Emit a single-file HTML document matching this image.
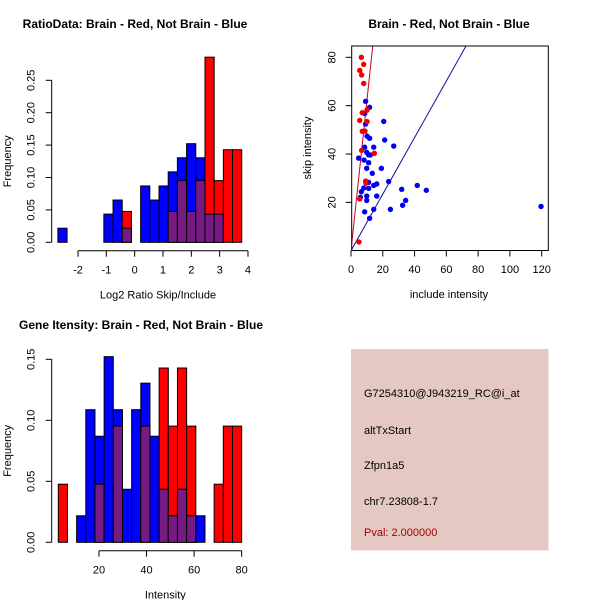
<!DOCTYPE html>
<html><head><meta charset="utf-8">
<style>
html,body{margin:0;padding:0;background:#fff;}
svg{display:block;font-family:"Liberation Sans",sans-serif;}
</style></head>
<body>
<svg id="c" width="600" height="600" viewBox="0 0 600 600"></svg>
<script>
// ---- data: ratio histogram (20 bins) ----
const ratioBinStart = -2.71;
const ratioBinWidth = 0.3245;
const ratioBlue = [1,0,0,0,0,2,3,1,0,4,3,4,5,6,7,6,2,2,0,0].map(n=>n/46);
const ratioRed  = [0,0,0,0,0,0,0,1,0,0,0,0,1,2,1,2,6,2,3,3].map(n=>n/21);
const ratioXTicks = [-2,-1,0,1,2,3,4];
const ratioYTicks = [0,0.05,0.10,0.15,0.20,0.25];
// ---- data: intensity histogram ----
const intBinStart = 2.9;
const intBinWidth = 3.855;
const intBlue = [0,0,1,5,4,7,5,2,5,6,4,2,1,2,1,1,0,0,0,0].map(n=>n/46);
const intRed  = [1,0,0,0,1,0,2,0,0,2,0,3,2,3,2,0,0,1,2,2].map(n=>n/21);
const intXTicks = [20,40,60,80];
const intYTicks = [0,0.05,0.10,0.15];
// ---- data: scatter ----
const redInc  = [6.5,8.0,5.5,6.7,8.0,10.1,7.1,5.5,10.1,7.1,8.8,6.7,14.7,9.2,9.4,5.5,5.0];
const redSkip = [80,77.1,74.6,72.7,69.2,58.2,57.1,53.9,53.4,49.4,49.5,41.5,40.3,28.8,27.9,21.4,3.6];
const blueInc  = [9.2,11.7,8.6,9.2,20.6,10.1,11.7,21.2,26.9,8.6,14.3,9.9,11.1,12.2,4.8,8.2,11.1,19.1,9.9,13.4,23.7,11.1,16.2,14.3,41.7,31.9,47.4,8.0,11.1,6.5,9.9,16.2,5.9,9.9,34.4,32.5,119.6,14.3,24.8,8.6,11.7];
const blueSkip = [61.8,59.3,56.8,52.4,53.5,47.4,46.5,45.8,43.3,42.8,42.8,40.7,39.6,39.6,38.3,37.5,36.4,34.1,34.1,32.0,28.6,28.3,27.6,27.0,27.0,25.4,25.0,25.9,25.8,24.4,22.6,22.6,22.1,20.8,20.8,18.8,18.3,17.1,17.1,16.1,13.4];
const redSlope = 6.2, blueSlope = 1.17;
const scXTicks = [0,20,40,60,80,100,120];
const scYTicks = [20,40,60,80];

const NS="http://www.w3.org/2000/svg";
const svg=document.getElementById('c');
function el(tag,attrs,parent,text){const e=document.createElementNS(NS,tag);for(const k in attrs)e.setAttribute(k,attrs[k]);if(text!==undefined)e.textContent=text;(parent||svg).appendChild(e);return e;}
function grp(name){const g=el('g',{});return g;}

function histogram(name,binStart,binW,blue,red,xs,ys,yAxisX,xAxisY,xTicks,yTicks,xlab,title,titleX,titleY,fmtY){
  const g=grp(name);
  const bars=grp(name+'-bars');g.appendChild(bars);
  for(let i=0;i<blue.length;i++){
    const x0=xs(binStart+i*binW), x1=xs(binStart+(i+1)*binW);
    const b=blue[i], r=red[i];
    const hi=Math.max(b,r), lo=Math.min(b,r);
    if(hi>0){
      const e=el('rect',{x:x0,y:ys(hi),width:x1-x0,height:ys(0)-ys(hi),fill:b>=r?'#0000ff':'#ff0000',stroke:'#000','stroke-width':1},bars);
      
      
    }
    if(lo>0){
      const e=el('rect',{x:x0,y:ys(lo),width:x1-x0,height:ys(0)-ys(lo),fill:'#781a84',stroke:'#000','stroke-width':1},bars);
      
      
    }
  }
  const yax=grp(name+'-y-axis');g.appendChild(yax);
  el('line',{x1:yAxisX,x2:yAxisX,y1:ys(yTicks[0]),y2:ys(yTicks[yTicks.length-1]),stroke:'#000'},yax);
  yTicks.forEach(t=>{const y=ys(t);el('line',{x1:yAxisX-6,x2:yAxisX,y1:y,y2:y,stroke:'#000'},yax);
    el('text',{x:0,y:0,transform:`translate(${yAxisX-17},${y}) rotate(-90)`,'text-anchor':'middle','font-size':11},yax,fmtY(t));});
  const xax=grp(name+'-x-axis');g.appendChild(xax);
  el('line',{x1:xs(xTicks[0]),x2:xs(xTicks[xTicks.length-1]),y1:xAxisY,y2:xAxisY,stroke:'#000'},xax);
  xTicks.forEach(t=>{const x=xs(t);el('line',{x1:x,x2:x,y1:xAxisY,y2:xAxisY+6,stroke:'#000'},xax);
    el('text',{x:x,y:xAxisY+23,'text-anchor':'middle','font-size':11},xax,String(t));});
  const xl=el('text',{x:(xs(xTicks[0])+xs(xTicks[xTicks.length-1]))/2-5,y:xAxisY+48,'text-anchor':'middle','font-size':11},g,xlab);
  
  const yl=el('text',{x:0,y:0,transform:`translate(11,${(ys(yTicks[0])+ys(yTicks[yTicks.length-1]))/2}) rotate(-90)`,'text-anchor':'middle','font-size':11},g,'Frequency');
  
  const tt=el('text',{x:titleX,y:titleY,'text-anchor':'middle','font-size':12,'font-weight':'bold'},g,title);
  
}
const f2=t=>t.toFixed(2);
histogram('ratio-histogram',ratioBinStart,ratioBinWidth,ratioBlue,ratioRed,
  v=>78+(v+2)*28.33, v=>242.3-v*648, 51.7,250.7,ratioXTicks,ratioYTicks,'Log2 Ratio Skip/Include',
  'RatioData: Brain - Red, Not Brain - Blue',135,28,f2);
histogram('intensity-histogram',intBinStart,intBinWidth,intBlue,intRed,
  v=>51.4+v*2.378, v=>542.3-v*1220, 51.7,550.7,intXTicks,intYTicks,'Intensity',
  'Gene Itensity: Brain - Red, Not Brain - Blue',141,329,f2);

(function(){
  const g=grp('scatter-plot');
  const xs=v=>351+v*1.589, ys=v=>250.7-v*2.417;
  const L=351.7,R=548.3,T=46,B=250.5;
  const clip=el('clipPath',{id:'scclip'},g);el('rect',{x:L,y:T,width:R-L,height:B-T},clip);
  const lines=el('g',{'clip-path':'url(#scclip)'},g);
  const rl=el('line',{x1:xs(0),y1:ys(0),x2:xs(100/redSlope),y2:ys(100),stroke:'#c8001e','stroke-width':1},lines);
  
  const bl=el('line',{x1:xs(0),y1:ys(0),x2:xs(100/blueSlope),y2:ys(100),stroke:'#10109a','stroke-width':1},lines);
  
  const pts=grp('scatter-points');g.appendChild(pts);
  for(let i=0;i<blueInc.length;i++){
    const c=el('circle',{cx:xs(blueInc[i]),cy:ys(blueSkip[i]),r:2.7,fill:'#0000ee'},pts);
    
  }
  for(let i=0;i<redInc.length;i++){
    const c=el('circle',{cx:xs(redInc[i]),cy:ys(redSkip[i]),r:2.7,fill:'#ee0000'},pts);
    
  }
  el('rect',{x:L,y:T,width:R-L,height:B-T,fill:'none',stroke:'#000'},g);
  const xax=grp('scatter-x-axis');g.appendChild(xax);
  scXTicks.forEach(t=>{const x=xs(t);el('line',{x1:x,x2:x,y1:B,y2:B+6,stroke:'#000'},xax);
    el('text',{x:x,y:273,'text-anchor':'middle','font-size':11},xax,String(t));});
  const yax=grp('scatter-y-axis');g.appendChild(yax);
  scYTicks.forEach(t=>{const y=ys(t);el('line',{x1:L-6,x2:L,y1:y,y2:y,stroke:'#000'},yax);
    el('text',{x:0,y:0,transform:`translate(${L-16},${y}) rotate(-90)`,'text-anchor':'middle','font-size':11},yax,String(t));});
  const xl=el('text',{x:449,y:298,'text-anchor':'middle','font-size':11},g,'include intensity');
  
  const yl=el('text',{x:0,y:0,transform:'translate(311,148) rotate(-90)','text-anchor':'middle','font-size':11},g,'skip intensity');
  
  const tt=el('text',{x:449,y:28,'text-anchor':'middle','font-size':12,'font-weight':'bold'},g,'Brain - Red, Not Brain - Blue');
  
})();

(function(){
  const g=grp('info-panel');
  el('rect',{x:351,y:349,width:197.5,height:201.5,fill:'#e6c8c2'},g);
  const lines=[['G7254310@J943219_RC@i_at',397,'#000','probe-id'],['altTxStart',434,'#000','event-type'],['Zfpn1a5',469,'#000','gene-name'],['chr7.23808-1.7',505,'#000','location'],['Pval: 2.000000',536,'#a00000','p-value']];
  lines.forEach(l=>{const t=el('text',{x:364,y:l[1],'font-size':11,fill:l[2]},g,l[0]);
    });
})();
</script>
</body></html>
